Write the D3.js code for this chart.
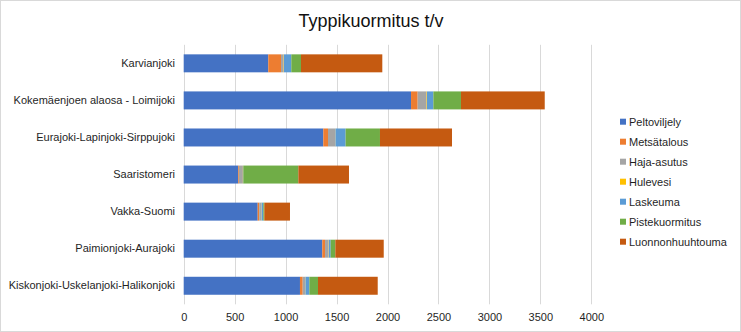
<!DOCTYPE html>
<html>
<head>
<meta charset="utf-8">
<script src="https://cdn.jsdelivr.net/npm/d3@7"></script>
<style>
  html, body { margin: 0; padding: 0; background: #fff; }
  svg { display: block; font-family: "Liberation Sans", Arial, Helvetica, sans-serif; }
</style>
</head>
<body>
<svg id="chart" width="741" height="332"></svg>
<script>
const title = "Typpikuormitus t/v";
const categories = [
  "Karvianjoki",
  "Kokemäenjoen alaosa - Loimijoki",
  "Eurajoki-Lapinjoki-Sirppujoki",
  "Saaristomeri",
  "Vakka-Suomi",
  "Paimionjoki-Aurajoki",
  "Kiskonjoki-Uskelanjoki-Halikonjoki"
];
const seriesNames = ["Peltoviljely", "Metsätalous", "Haja-asutus", "Hulevesi", "Laskeuma", "Pistekuormitus", "Luonnonhuuhtouma"];
const peltoviljely     = [830, 2231, 1370, 533, 726, 1360, 1141];
const metsatalous      = [125, 65, 46, 8, 15, 27, 27];
const hajaAsutus       = [26, 86, 70, 40, 20, 34, 24];
const hulevesi         = [3, 5, 3, 2, 3, 3, 3];
const laskeuma         = [72, 63, 100, 2, 17, 18, 38];
const pistekuormitus   = [95, 271, 337, 540, 10, 46, 85];
const luonnonhuuhtouma = [798, 822, 707, 497, 252, 475, 586];
const tickValues = [0, 500, 1000, 1500, 2000, 2500, 3000, 3500, 4000];
const colors = ["#4472C4", "#ED7D31", "#A5A5A5", "#FFC000", "#5B9BD5", "#70AD47", "#C55A11"];

const seriesValues = [peltoviljely, metsatalous, hajaAsutus, hulevesi, laskeuma, pistekuormitus, luonnonhuuhtouma];
const rows = categories.map((c, i) => {
  const r = { cat: c };
  seriesNames.forEach((s, j) => r[s] = seriesValues[j][i]);
  return r;
});
const stacked = d3.stack().keys(seriesNames)(rows);

const svg = d3.select("#chart");
const W = 741, H = 332;
const textColor = "#1f1f1f";

svg.append("rect").attr("x", 0.5).attr("y", 0.5).attr("width", W - 1).attr("height", H - 1)
  .attr("fill", "#fff").attr("stroke", "#d9d9d9");

const x = d3.scaleLinear().domain([0, 4000]).range([183.7, 591.3]);
const y = d3.scaleBand().domain(categories).range([44.8, 304.3]).paddingInner(0.515).paddingOuter(0.2575);

// gridlines
svg.append("g").selectAll("line").data(tickValues).join("line")
  .attr("x1", d => Math.round(x(d)) + 0.5).attr("x2", d => Math.round(x(d)) + 0.5)
  .attr("y1", 44.8).attr("y2", 304.3)
  .attr("stroke", "#d9d9d9").attr("stroke-width", 1);

// bars
svg.append("g").selectAll("g").data(stacked).join("g")
  .attr("fill", (d, i) => colors[i])
  .selectAll("rect").data(d => d).join("rect")
  .attr("x", d => x(d[0]))
  .attr("width", d => Math.max(0, x(d[1]) - x(d[0])))
  .attr("y", d => y(d.data.cat))
  .attr("height", y.bandwidth());

// x axis labels
const xAxis = d3.axisBottom(x).tickValues(tickValues).tickSize(0).tickPadding(0).tickFormat(d3.format("d"));
const gx = svg.append("g").attr("transform", "translate(0,313)").call(xAxis);
gx.select(".domain").remove();
gx.selectAll("text").attr("font-size", 11).attr("fill", textColor).attr("font-family", "Liberation Sans, Arial, sans-serif");

// y axis labels
const yAxis = d3.axisLeft(y).tickSize(0).tickPadding(0);
const gy = svg.append("g").attr("transform", "translate(175,0)").call(yAxis);
gy.select(".domain").remove();
gy.selectAll("text").attr("font-size", 11).attr("fill", textColor).attr("font-family", "Liberation Sans, Arial, sans-serif");

// title
svg.append("text").attr("x", 371).attr("y", 27).attr("text-anchor", "middle")
  .attr("font-size", 18).attr("fill", "#111").text(title);

// legend
const leg = svg.append("g").selectAll("g").data(seriesNames).join("g")
  .attr("transform", (d, i) => `translate(620,${121.7 + i * 20})`);
leg.append("rect").attr("x", 0).attr("y", -3).attr("width", 6).attr("height", 6)
  .attr("fill", (d, i) => colors[i]);
leg.append("text").attr("x", 9).attr("y", 0).attr("dy", "0.35em")
  .attr("font-size", 11).attr("fill", textColor).text(d => d);
</script>
</body>
</html>
